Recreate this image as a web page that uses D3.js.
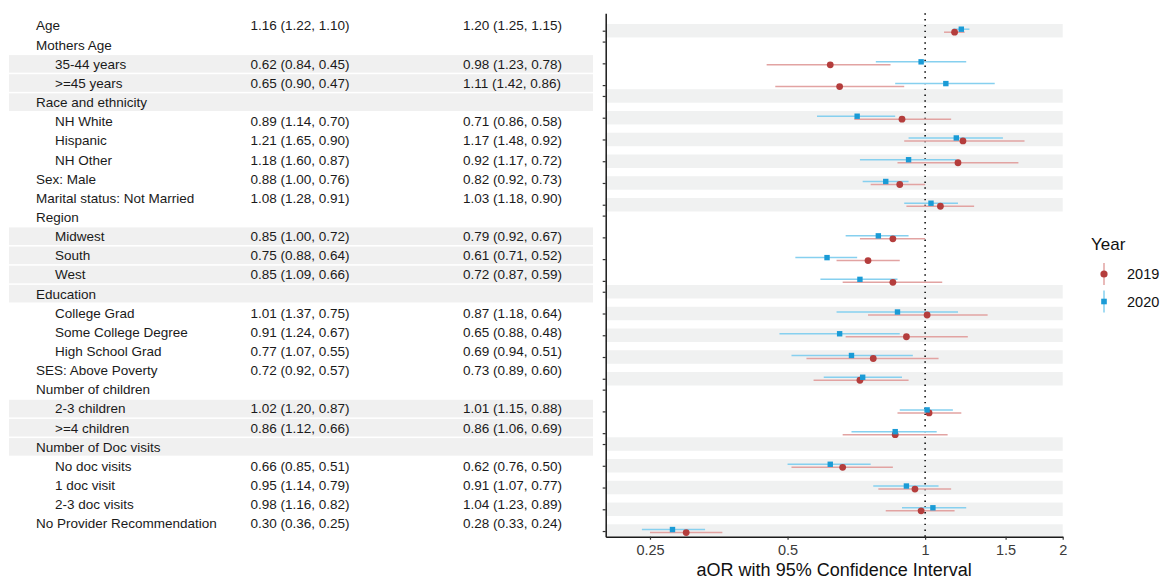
<!DOCTYPE html>
<html>
<head>
<meta charset="utf-8">
<script src="https://cdn.jsdelivr.net/npm/d3@7"></script>
<style>
  body { margin: 0; background: #fff; }
  svg { font-family: "Liberation Sans", Arial, sans-serif; }
</style>
</head>
<body>
<svg class="fp"></svg>
<script>
var W = 1160, H = 579;

// rows of the table, top to bottom
var labels = ["Age", "Mothers Age", "35-44 years", ">=45 years", "Race and ethnicity",
  "NH White", "Hispanic", "NH Other", "Sex: Male", "Marital status: Not Married",
  "Region", "Midwest", "South", "West", "Education", "College Grad",
  "Some College Degree", "High School Grad", "SES: Above Poverty", "Number of children",
  "2-3 children", ">=4 children", "Number of Doc visits", "No doc visits", "1 doc visit",
  "2-3 doc visits", "No Provider Recommendation"];
var indent = [0,0,1,1,0,1,1,1,0,0,0,1,1,1,0,1,1,1,0,0,1,1,0,1,1,1,0];

// 2019: aOR (upper, lower)
var or2019 = [1.16,null,0.62,0.65,null,0.89,1.21,1.18,0.88,1.08,null,0.85,0.75,0.85,null,1.01,0.91,0.77,0.72,null,1.02,0.86,null,0.66,0.95,0.98,0.30];
var hi2019 = [1.22,null,0.84,0.90,null,1.14,1.65,1.60,1.00,1.28,null,1.00,0.88,1.09,null,1.37,1.24,1.07,0.92,null,1.20,1.12,null,0.85,1.14,1.16,0.36];
var lo2019 = [1.10,null,0.45,0.47,null,0.70,0.90,0.87,0.76,0.91,null,0.72,0.64,0.66,null,0.75,0.67,0.55,0.57,null,0.87,0.66,null,0.51,0.79,0.82,0.25];
// 2020
var or2020 = [1.20,null,0.98,1.11,null,0.71,1.17,0.92,0.82,1.03,null,0.79,0.61,0.72,null,0.87,0.65,0.69,0.73,null,1.01,0.86,null,0.62,0.91,1.04,0.28];
var hi2020 = [1.25,null,1.23,1.42,null,0.86,1.48,1.17,0.92,1.18,null,0.92,0.71,0.87,null,1.18,0.88,0.94,0.89,null,1.15,1.06,null,0.76,1.07,1.23,0.33];
var lo2020 = [1.15,null,0.78,0.86,null,0.58,0.92,0.72,0.73,0.90,null,0.67,0.52,0.59,null,0.64,0.48,0.51,0.60,null,0.88,0.69,null,0.50,0.77,0.89,0.24];

var xTicks = [0.25, 0.5, 1, 1.5, 2];
var years = ["2019", "2020"];

// shaded rows (table side / plot side)
var tableShade = [2,3,4,11,12,13,14,20,21,22];
var plotShade = [0,4,5,6,7,8,9,14,15,16,17,18,22,23,24,25,26];

var red = "#b43d3c", redL = "#e2a3a2", blue = "#1a9bd6", blueL = "#86d0ef";

var svg = d3.select(".fp").attr("width", W).attr("height", H);

// ---- table ----
var ty = d3.scaleBand().domain(d3.range(labels.length)).range([16, 16 + 27 * 19.15]).paddingInner(0.08).paddingOuter(0.04);
var fmt = d3.format(".2f");
function cell(o, h, l) { return o == null ? "" : fmt(o) + " (" + fmt(h) + ", " + fmt(l) + ")"; }

svg.append("g").selectAll("rect").data(tableShade).enter().append("rect")
  .attr("x", 9).attr("width", 584)
  .attr("y", function(i) { return ty(i); })
  .attr("height", ty.bandwidth())
  .attr("fill", "#f0f0f0");

var rows = svg.append("g").selectAll("g").data(labels).enter().append("g")
  .attr("transform", function(d, i) { return "translate(0," + (ty(i) + ty.bandwidth() / 2) + ")"; });
rows.append("text").attr("x", function(d, i) { return indent[i] ? 55 : 36; })
  .attr("dy", "0.36em").attr("font-size", 13.5).attr("fill", "#1a1a1a").text(String);
rows.append("text").attr("x", 250.5).attr("dy", "0.36em").attr("font-size", 13.5).attr("fill", "#1a1a1a")
  .text(function(d, i) { return cell(or2019[i], hi2019[i], lo2019[i]); });
rows.append("text").attr("x", 463).attr("dy", "0.36em").attr("font-size", 13.5).attr("fill", "#1a1a1a")
  .text(function(d, i) { return cell(or2020[i], hi2020[i], lo2020[i]); });

// ---- forest plot ----
// header rows (no estimate) take half a step
var pos = [], p = 0;
labels.forEach(function(d, i) {
  if (i > 0) p += (or2019[i] == null ? 0.5 : 1);
  pos.push(p);
});

var x = d3.scaleLog().base(2).domain([0.2, 2]).range([605.7, 1062.7]);
var y = d3.scaleLinear().domain([-0.8, pos[pos.length - 1] + 0.26]).range([13.3, 536.7]);
var unit = y(1) - y(0);

var plot = svg.append("g");
plot.selectAll("rect.band").data(plotShade).enter().append("rect")
  .attr("class", "band")
  .attr("x", x.range()[0]).attr("width", x.range()[1] - x.range()[0])
  .attr("y", function(i) { return y(pos[i]) - 0.31 * unit; })
  .attr("height", 0.62 * unit)
  .attr("fill", "#f0f1f1");

plot.append("line")
  .attr("x1", x(1)).attr("x2", x(1)).attr("y1", y.range()[0]).attr("y2", y.range()[1])
  .attr("stroke", "#111").attr("stroke-width", 1.6).attr("stroke-dasharray", "1.4,4.4");

var series = [
  { key: "2019", o: or2019, h: hi2019, l: lo2019, col: red, lc: redL, dy: 1.5 },
  { key: "2020", o: or2020, h: hi2020, l: lo2020, col: blue, lc: blueL, dy: -1.5 }
];

series.forEach(function(s) {
  var idx = d3.range(labels.length).filter(function(i) { return s.o[i] != null; });
  var g = plot.append("g");
  g.selectAll("line").data(idx).enter().append("line")
    .attr("x1", function(i) { return x(s.l[i]); })
    .attr("x2", function(i) { return x(s.h[i]); })
    .attr("y1", function(i) { return y(pos[i]) + s.dy; })
    .attr("y2", function(i) { return y(pos[i]) + s.dy; })
    .attr("stroke", s.lc).attr("stroke-width", 1.5);
});
// points drawn after all whiskers
series.forEach(function(s) {
  var idx = d3.range(labels.length).filter(function(i) { return s.o[i] != null; });
  var g = plot.append("g");
  if (s.key == "2019") {
    g.selectAll("circle").data(idx).enter().append("circle")
      .attr("cx", function(i) { return x(s.o[i]); })
      .attr("cy", function(i) { return y(pos[i]) + s.dy; })
      .attr("r", 3.4).attr("fill", s.col);
  } else {
    g.selectAll("rect").data(idx).enter().append("rect")
      .attr("x", function(i) { return x(s.o[i]) - 2.7; })
      .attr("y", function(i) { return y(pos[i]) + s.dy - 2.7; })
      .attr("width", 5.4).attr("height", 5.4).attr("fill", s.col);
  }
});

// axes
var ax = svg.append("g").attr("transform", "translate(" + x.range()[0] + ",0)")
  .call(d3.axisLeft(y).tickValues(pos).tickSize(3).tickSizeOuter(0).tickFormat(""));
var bx = svg.append("g").attr("transform", "translate(0," + y.range()[1] + ")")
  .call(d3.axisBottom(x).tickValues(xTicks).tickSize(3).tickSizeOuter(0).tickFormat(function(d) { return d; }));
[ax, bx].forEach(function(a) {
  a.select(".domain").attr("stroke", "#1a1a1a").attr("stroke-width", 1.5);
  a.selectAll(".tick line").attr("stroke", "#333").attr("stroke-width", 1.2);
});
bx.selectAll(".tick text").attr("font-size", 14.5).attr("fill", "#3a3a3a")
  .attr("font-family", "Liberation Sans, Arial, sans-serif").attr("y", 8);

svg.append("text").attr("x", (x.range()[0] + x.range()[1]) / 2).attr("y", 576)
  .attr("text-anchor", "middle").attr("font-size", 18).attr("fill", "#111")
  .text("aOR with 95% Confidence Interval");

// legend
var leg = svg.append("g").attr("transform", "translate(1091,0)");
leg.append("text").attr("x", 0).attr("y", 250).attr("font-size", 17).attr("fill", "#111").text("Year");
var li = leg.selectAll("g.item").data(series).enter().append("g").attr("class", "item")
  .attr("transform", function(d, i) { return "translate(13," + (274 + i * 27.5) + ")"; });
li.append("line").attr("y1", -11).attr("y2", 11).attr("stroke", function(d) { return d.lc; }).attr("stroke-width", 1.5);
li.each(function(d) {
  var g = d3.select(this);
  if (d.key == "2019") g.append("circle").attr("r", 3.6).attr("fill", d.col);
  else g.append("rect").attr("x", -2.8).attr("y", -2.8).attr("width", 5.6).attr("height", 5.6).attr("fill", d.col);
});
li.append("text").attr("x", 23).attr("dy", "0.36em").attr("font-size", 14.5).attr("fill", "#111")
  .text(function(d) { return d.key; });
</script>
</body>
</html>
